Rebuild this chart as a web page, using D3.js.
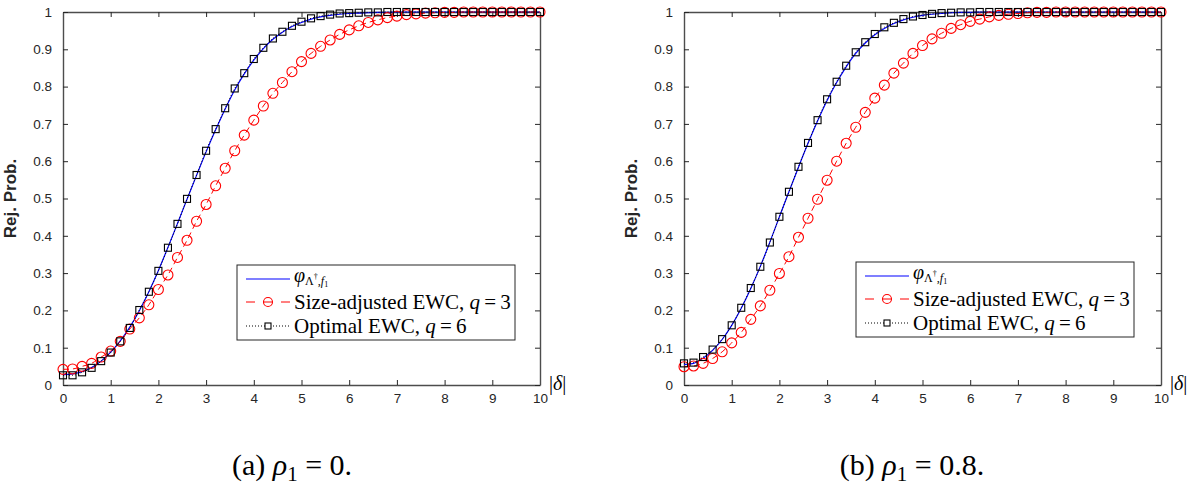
<!DOCTYPE html>
<html>
<head>
<meta charset="utf-8">
<script src="https://cdn.jsdelivr.net/npm/d3@7/dist/d3.min.js"></script>
<style>
  html, body { margin: 0; padding: 0; background: #fff; }
  svg { display: block; }
  .tick text { font-family: "Liberation Sans", Arial, sans-serif; font-size: 13.5px; fill: #262626; }
  .serif { font-family: "Liberation Serif", "Times New Roman", serif; fill: #000; }
</style>
</head>
<body>
<svg id="fig" width="1192" height="495"></svg>
<script>
// Grid of |delta| values at which rejection probabilities were evaluated
const deltaGrid = [0, 0.2, 0.4, 0.6, 0.8, 1, 1.2, 1.4, 1.6, 1.8, 2, 2.2, 2.4, 2.6, 2.8, 3, 3.2, 3.4, 3.6, 3.8,
  4, 4.2, 4.4, 4.6, 4.8, 5, 5.2, 5.4, 5.6, 5.8, 6, 6.2, 6.4, 6.6, 6.8, 7, 7.2, 7.4, 7.6, 7.8,
  8, 8.2, 8.4, 8.6, 8.8, 9, 9.2, 9.4, 9.6, 9.8, 10];

const xTickValues = [0, 1, 2, 3, 4, 5, 6, 7, 8, 9, 10];
const yTickValues = [0, 0.1, 0.2, 0.3, 0.4, 0.5, 0.6, 0.7, 0.8, 0.9, 1];
const yTickLabels = ["0", "0.1", "0.2", "0.3", "0.4", "0.5", "0.6", "0.7", "0.8", "0.9", "1"];

// Panel (a): rho_1 = 0
const envelopeA = [0.028, 0.030, 0.036, 0.047, 0.064, 0.088, 0.118, 0.155, 0.199, 0.250, 0.307, 0.369, 0.433, 0.498, 0.562, 0.625,
  0.684, 0.740, 0.791, 0.834, 0.871, 0.902, 0.927, 0.946, 0.961, 0.972, 0.981, 0.987, 0.991, 0.994, 0.996, 0.997, 0.998,
  0.999, 0.999, 1, 1, 1, 1, 1, 1, 1, 1, 1, 1, 1, 1, 1, 1, 1, 1];
const sizeAdjA = [0.042, 0.043, 0.050, 0.058, 0.075, 0.091, 0.117, 0.150, 0.180, 0.215, 0.256, 0.295, 0.342, 0.388, 0.439, 0.484,
  0.534, 0.581, 0.628, 0.670, 0.710, 0.748, 0.782, 0.811, 0.840, 0.867, 0.889, 0.908, 0.925, 0.940, 0.952, 0.963, 0.972,
  0.979, 0.985, 0.989, 0.993, 0.995, 0.997, 0.998, 0.999, 0.999, 1, 1, 1, 1, 1, 1, 1, 1, 1];
const optimalA = [0.026, 0.026, 0.034, 0.046, 0.064, 0.087, 0.117, 0.153, 0.201, 0.250, 0.306, 0.368, 0.432, 0.499, 0.563, 0.628,
  0.686, 0.742, 0.795, 0.836, 0.874, 0.904, 0.929, 0.947, 0.963, 0.974, 0.983, 0.989, 0.993, 0.996, 0.997, 0.998, 0.999,
  0.999, 1, 1, 1, 1, 1, 1, 1, 1, 1, 1, 1, 1, 1, 1, 1, 1, 1];

// Panel (b): rho_1 = 0.8
const envelopeB = [0.055, 0.058, 0.072, 0.093, 0.122, 0.160, 0.206, 0.259, 0.318, 0.383, 0.451, 0.518, 0.584, 0.648, 0.708, 0.763,
  0.811, 0.853, 0.889, 0.917, 0.939, 0.956, 0.969, 0.979, 0.986, 0.991, 0.994, 0.996, 0.998, 0.999, 0.999, 1, 1,
  1, 1, 1, 1, 1, 1, 1, 1, 1, 1, 1, 1, 1, 1, 1, 1, 1, 1];
const sizeAdjB = [0.049, 0.051, 0.058, 0.071, 0.089, 0.113, 0.141, 0.176, 0.212, 0.254, 0.299, 0.344, 0.396, 0.447, 0.498, 0.549,
  0.600, 0.648, 0.691, 0.731, 0.769, 0.804, 0.836, 0.863, 0.889, 0.910, 0.928, 0.943, 0.956, 0.966, 0.975, 0.981, 0.987,
  0.991, 0.994, 0.996, 0.998, 0.999, 0.999, 1, 1, 1, 1, 1, 1, 1, 1, 1, 1, 1, 1];
const optimalB = [0.058, 0.060, 0.075, 0.095, 0.123, 0.160, 0.207, 0.260, 0.317, 0.382, 0.451, 0.518, 0.585, 0.649, 0.710, 0.766,
  0.813, 0.856, 0.892, 0.919, 0.941, 0.959, 0.971, 0.981, 0.988, 0.992, 0.995, 0.997, 0.998, 0.999, 0.999, 1, 1,
  1, 1, 1, 1, 1, 1, 1, 1, 1, 1, 1, 1, 1, 1, 1, 1, 1, 1];

const svg = d3.select("#fig");
const AXIS_COLOR = "#4d4d4d";

function drawPanel(p) {
  const x = d3.scaleLinear().domain([0, 10]).range([p.left, p.right]);
  const y = d3.scaleLinear().domain([0, 1]).range([p.bottom, p.top]);
  const g = svg.append("g");

  // Axes box with inward ticks on all four sides
  const axes = [
    { ax: d3.axisBottom(x).tickValues(xTickValues).tickFormat(d3.format("d")).tickPadding(8), t: `translate(0,${p.bottom})` },
    { ax: d3.axisTop(x).tickValues(xTickValues).tickFormat(""), t: `translate(0,${p.top})` },
    { ax: d3.axisLeft(y).tickValues(yTickValues).tickFormat((d, i) => yTickLabels[i]).tickPadding(11), t: `translate(${p.left},0)` },
    { ax: d3.axisRight(y).tickValues(yTickValues).tickFormat(""), t: `translate(${p.right},0)` }
  ];
  axes.forEach(a => {
    const ag = g.append("g").attr("transform", a.t)
      .call(a.ax.tickSizeInner(-5).tickSizeOuter(0));
    ag.select(".domain").attr("stroke", AXIS_COLOR).attr("stroke-width", 1.4);
    ag.selectAll(".tick line").attr("stroke", "#262626").attr("stroke-width", 1);
  });

  const pts = s => deltaGrid.map((d, i) => [d, s[i]]);
  const line = d3.line().x(d => x(d[0])).y(d => y(d[1])).curve(d3.curveMonotoneX);

  // Power envelope
  g.append("path").attr("d", line(pts(p.envelope)))
    .attr("fill", "none").attr("stroke", "#0000ff").attr("stroke-width", 1.2);

  // Size-adjusted EWC test, dashed with circles
  g.append("path").attr("d", line(pts(p.sizeAdj)))
    .attr("fill", "none").attr("stroke", "#ff0000").attr("stroke-width", 1).attr("stroke-dasharray", "6,4");
  g.append("g").selectAll("circle").data(pts(p.sizeAdj)).join("circle")
    .attr("cx", d => x(d[0])).attr("cy", d => y(d[1])).attr("r", 5)
    .attr("fill", "none").attr("stroke", "#ff0000").attr("stroke-width", 1.1);

  // Optimal EWC test, dotted with squares
  g.append("path").attr("d", line(pts(p.optimal)))
    .attr("fill", "none").attr("stroke", "#000").attr("stroke-width", 1).attr("stroke-dasharray", "1,2");
  const sq = 7;
  g.append("g").selectAll("rect").data(pts(p.optimal)).join("rect")
    .attr("x", d => x(d[0]) - sq / 2).attr("y", d => y(d[1]) - sq / 2)
    .attr("width", sq).attr("height", sq)
    .attr("fill", "none").attr("stroke", "#000").attr("stroke-width", 1.1);

  // Axis titles
  g.append("text")
    .attr("transform", `translate(${p.left - 47},${(p.top + p.bottom) / 2}) rotate(-90)`)
    .attr("text-anchor", "middle")
    .attr("font-family", "Liberation Sans, Arial, sans-serif")
    .attr("font-weight", "bold").attr("font-size", 17).attr("fill", "#262626")
    .text("Rej. Prob.");
  const dl = g.append("text").attr("class", "serif")
    .attr("x", p.right + 9).attr("y", p.bottom + 5).attr("font-size", 20);
  dl.append("tspan").text("|");
  dl.append("tspan").attr("font-style", "italic").text("δ");
  dl.append("tspan").text("|");

  // Legend
  const L = p.legend;
  const lg = g.append("g").attr("transform", `translate(${L.x},${L.y})`);
  lg.append("rect").attr("width", L.w).attr("height", L.h)
    .attr("fill", "#fff").attr("stroke", "#262626").attr("stroke-width", 1);
  const sx0 = 9, sx1 = 53, tx = 57;
  const rows = [14, 37, 61];
  lg.append("line").attr("x1", sx0).attr("x2", sx1).attr("y1", rows[0]).attr("y2", rows[0])
    .attr("stroke", "#0000ff").attr("stroke-width", 1.2);
  lg.append("line").attr("x1", sx0).attr("x2", sx1).attr("y1", rows[1]).attr("y2", rows[1])
    .attr("stroke", "#ff0000").attr("stroke-width", 1).attr("stroke-dasharray", "9,8.5");
  lg.append("circle").attr("cx", (sx0 + sx1) / 2).attr("cy", rows[1]).attr("r", 4.5)
    .attr("fill", "none").attr("stroke", "#ff0000").attr("stroke-width", 1.1);
  lg.append("line").attr("x1", sx0).attr("x2", sx1).attr("y1", rows[2]).attr("y2", rows[2])
    .attr("stroke", "#000").attr("stroke-width", 1).attr("stroke-dasharray", "1,2");
  lg.append("rect").attr("x", (sx0 + sx1) / 2 - 3).attr("y", rows[2] - 3).attr("width", 6).attr("height", 6)
    .attr("fill", "#fff").attr("stroke", "#000").attr("stroke-width", 1.1);

  // Power envelope label: varphi with subscript Lambda-dagger, f_1
  const t1 = lg.append("text").attr("class", "serif").attr("x", tx).attr("y", rows[0] + 3).attr("font-size", 20);
  t1.append("tspan").attr("font-style", "italic").text("φ");
  t1.append("tspan").attr("font-size", 12).attr("dy", 3).text("Λ");
  t1.append("tspan").attr("font-size", 8).attr("dy", -6).text("†");
  t1.append("tspan").attr("font-size", 12).attr("dy", 6).text(",");
  t1.append("tspan").attr("font-size", 12).attr("font-style", "italic").text("f");
  t1.append("tspan").attr("font-size", 8).attr("dy", 2).text("1");

  const t2 = lg.append("text").attr("class", "serif").attr("x", tx).attr("y", rows[1] + 7).attr("font-size", 21);
  t2.append("tspan").text("Size-adjusted EWC, ");
  t2.append("tspan").attr("font-style", "italic").text("q");
  t2.append("tspan").text("\u2009=\u20093");

  const t3 = lg.append("text").attr("class", "serif").attr("x", tx).attr("y", rows[2] + 7).attr("font-size", 21);
  t3.append("tspan").text("Optimal EWC, ");
  t3.append("tspan").attr("font-style", "italic").text("q");
  t3.append("tspan").text("\u2009=\u20096");

  // Caption
  const cap = svg.append("text").attr("class", "serif")
    .attr("x", p.captionX).attr("y", 475).attr("font-size", 30).attr("text-anchor", "middle");
  cap.append("tspan").text(p.captionTag + " ");
  cap.append("tspan").attr("font-style", "italic").text("ρ");
  cap.append("tspan").attr("font-size", 21).attr("dy", 6).text("1");
  cap.append("tspan").attr("dy", -6).text(" = " + p.captionValue + ".");
}

drawPanel({
  left: 63, right: 540, top: 12, bottom: 385,
  envelope: envelopeA, sizeAdj: sizeAdjA, optimal: optimalA,
  legend: { x: 237, y: 265, w: 278, h: 75 },
  captionX: 292, captionTag: "(a)", captionValue: "0"
});
drawPanel({
  left: 684, right: 1161, top: 12, bottom: 385,
  envelope: envelopeB, sizeAdj: sizeAdjB, optimal: optimalB,
  legend: { x: 856, y: 262, w: 278, h: 75 },
  captionX: 912, captionTag: "(b)", captionValue: "0.8"
});
</script>
</body>
</html>
